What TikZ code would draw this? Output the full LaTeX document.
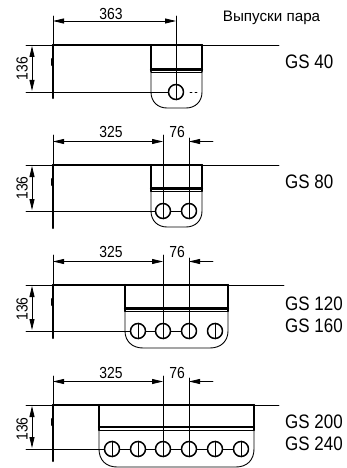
\documentclass[tikz,border=0pt]{standalone}
\usepackage{fontspec}
\setmainfont[FakeStretch=0.87]{Liberation Sans}
\newfontfamily\titlefont{Liberation Sans}
\usetikzlibrary{arrows.meta}
\tikzset{
  thin line/.style={color=black,line width=0.9pt},
  thick line/.style={color=black,line width=2.2pt},
  dim line/.style={color=black,line width=0.8pt,{Triangle[length=11pt,width=5pt]}-{Triangle[length=11pt,width=5pt]}},
  dim end/.style={color=black,line width=0.8pt,{Triangle[length=11pt,width=5pt]}-},
  hole/.style={color=black,line width=1.5pt},
  dim text/.style={font=\fontsize{16}{17}\selectfont,inner sep=0pt},
  type text/.style={font=\fontsize{19.5}{20}\selectfont,inner sep=0pt,anchor=west},
}
\begin{document}
\begin{tikzpicture}[line cap=round,line join=round,x=1pt,y=-1pt]
\useasboundingbox (0,0) rectangle (347,468);
\clip (0,0) rectangle (347,468);
% GS 40
\draw[thin line] (26,45) -- (279,45);
\draw[thick line] (53,45) -- (202,45);
\draw[thick line] (53,45) -- (53,98);
\draw[thin line] (53,16) -- (53,45);
\draw[thick line] (52,59) -- (52,65);
\draw[thick line] (151,45) -- (151,71) (202,45) -- (202,71);
\draw[thick line] (151,69.5) -- (202,69.5);
\draw[thin line] (151,72) -- (202,72);
\draw[thin line] (151,71) -- (151,92) .. controls (151,102) and (158,108) .. (167,108) -- (186,108) .. controls (195,108) and (202,102) .. (202,92) -- (202,71);
\draw[thin line] (26,92) -- (168,92);
\draw[thin line] (190,92) -- (192,92) (195,92) -- (197,92);
\draw[thin line] (176,16) -- (176,100);
\draw[hole] (176,92) circle (7.5);
\draw[dim line] (53,21) -- (176,21);
\draw[dim line] (32,46) -- (32,91);
\node[dim text] (len40) at (111,13.5) {363};
\node[dim text,rotate=90] (hgt40) at (22,68.5) {136};
\node[type text] (gs40) at (285,62) {GS 40};
\node[inner sep=0pt,font=\titlefont\fontsize{15.2}{16}\selectfont] (title) at (271.5,18) {Выпуски пара};
% GS 80
\draw[thin line] (26,165) -- (279,165);
\draw[thick line] (53,165) -- (202,165);
\draw[thick line] (53,165) -- (53,228);
\draw[thin line] (53,135) -- (53,165);
\draw[thick line] (52,179) -- (52,185);
\draw[thick line] (151,165) -- (151,191) (202,165) -- (202,191);
\draw[thick line] (151,188.5) -- (202,188.5);
\draw[thin line] (151,191) -- (202,191);
\draw[thin line] (151,191) -- (151,211) .. controls (151,221) and (158,227) .. (167,227) -- (186,227) .. controls (195,227) and (202,221) .. (202,211) -- (202,191);
\draw[thin line] (26,211) -- (155,211);
\draw[thin line] (171,211) -- (181,211);
\draw[thin line] (163,135) -- (163,219) (189,138) -- (189,219);
\draw[hole] (163,211) circle (7.5);
\draw[hole] (189,211) circle (7.5);
\draw[dim line] (53,141.5) -- (163,141.5);
\draw[dim end] (189,141.5) -- (213,141.5);
\draw[dim line] (32,166) -- (32,210);
\node[dim text] (len80) at (111,132) {325};
\node[dim text] (gap80) at (177,132) {76};
\node[dim text,rotate=90] (hgt80) at (22,188) {136};
\node[type text] (gs80) at (285,182) {GS 80};
% GS 120 / 160
\draw[thin line] (26,285) -- (284,285);
\draw[thick line] (53,285) -- (228,285);
\draw[thick line] (53,285) -- (53,338);
\draw[thin line] (53,255) -- (53,285);
\draw[thick line] (52,299) -- (52,305);
\draw[thick line] (125,285) -- (125,311) (228,285) -- (228,311);
\draw[thick line] (125,308.5) -- (228,308.5);
\draw[thin line] (125,311) -- (228,311);
\draw[thin line] (125,311) -- (125,331) .. controls (125,341) and (132,348) .. (143,348) -- (210,348) .. controls (221,348) and (228,341) .. (228,331) -- (228,311);
\draw[thin line] (26,331) -- (130,331);
\draw[thin line] (146,331) -- (155,331) (171,331) -- (181,331);
\draw[thin line] (163,255) -- (163,339) (189,258) -- (189,339);
\draw[thin line] (138,323) -- (138,339) (215,323) -- (215,339);
\draw[hole] (138,331) circle (7.5);
\draw[hole] (163,331) circle (7.5);
\draw[hole] (189,331) circle (7.5);
\draw[hole] (215,331) circle (7.5);
\draw[dim line] (53,261.5) -- (163,261.5);
\draw[dim end] (189,261.5) -- (213,261.5);
\draw[dim line] (32,286) -- (32,330);
\node[dim text] (len120) at (111,252) {325};
\node[dim text] (gap120) at (177,252) {76};
\node[dim text,rotate=90] (hgt120) at (22,309) {136};
\node[type text] (gs120) at (285,304) {GS 120};
\node[type text] (gs160) at (285,326) {GS 160};
% GS 200 / 240
\draw[thin line] (26,405) -- (279,405);
\draw[thick line] (53,405) -- (254,405);
\draw[thick line] (53,405) -- (53,461);
\draw[thin line] (53,376) -- (53,405);
\draw[thick line] (52,419) -- (52,425);
\draw[thick line] (99,405) -- (99,430) (254,405) -- (254,430);
\draw[thick line] (99,427) -- (254,427);
\draw[thin line] (99,430) -- (254,430);
\draw[thin line] (99,430) -- (99,449) .. controls (99,460) and (106,467) .. (117,467) -- (236,467) .. controls (247,467) and (254,460) .. (254,449) -- (254,430);
\draw[thin line] (26,449) -- (104,449);
\draw[thin line] (120,449) -- (130,449) (146,449) -- (155,449) (171,449) -- (181,449) (197,449) -- (207,449) (223,449) -- (233,449);
\draw[thin line] (163,376) -- (163,457) (189,378) -- (189,457);
\draw[thin line] (112,441) -- (112,457) (138,441) -- (138,457) (215,441) -- (215,457) (241,441) -- (241,457);
\draw[hole] (112,449) circle (7.5);
\draw[hole] (138,449) circle (7.5);
\draw[hole] (163,449) circle (7.5);
\draw[hole] (189,449) circle (7.5);
\draw[hole] (215,449) circle (7.5);
\draw[hole] (241,449) circle (7.5);
\draw[dim line] (53,381.5) -- (163,381.5);
\draw[dim end] (189,381.5) -- (213,381.5);
\draw[dim line] (32,406) -- (32,448);
\node[dim text] (len200) at (111,373) {325};
\node[dim text] (gap200) at (177,373) {76};
\node[dim text,rotate=90] (hgt200) at (22,429) {136};
\node[type text] (gs200) at (285,422) {GS 200};
\node[type text] (gs240) at (285,444) {GS 240};
\end{tikzpicture}
\end{document}
